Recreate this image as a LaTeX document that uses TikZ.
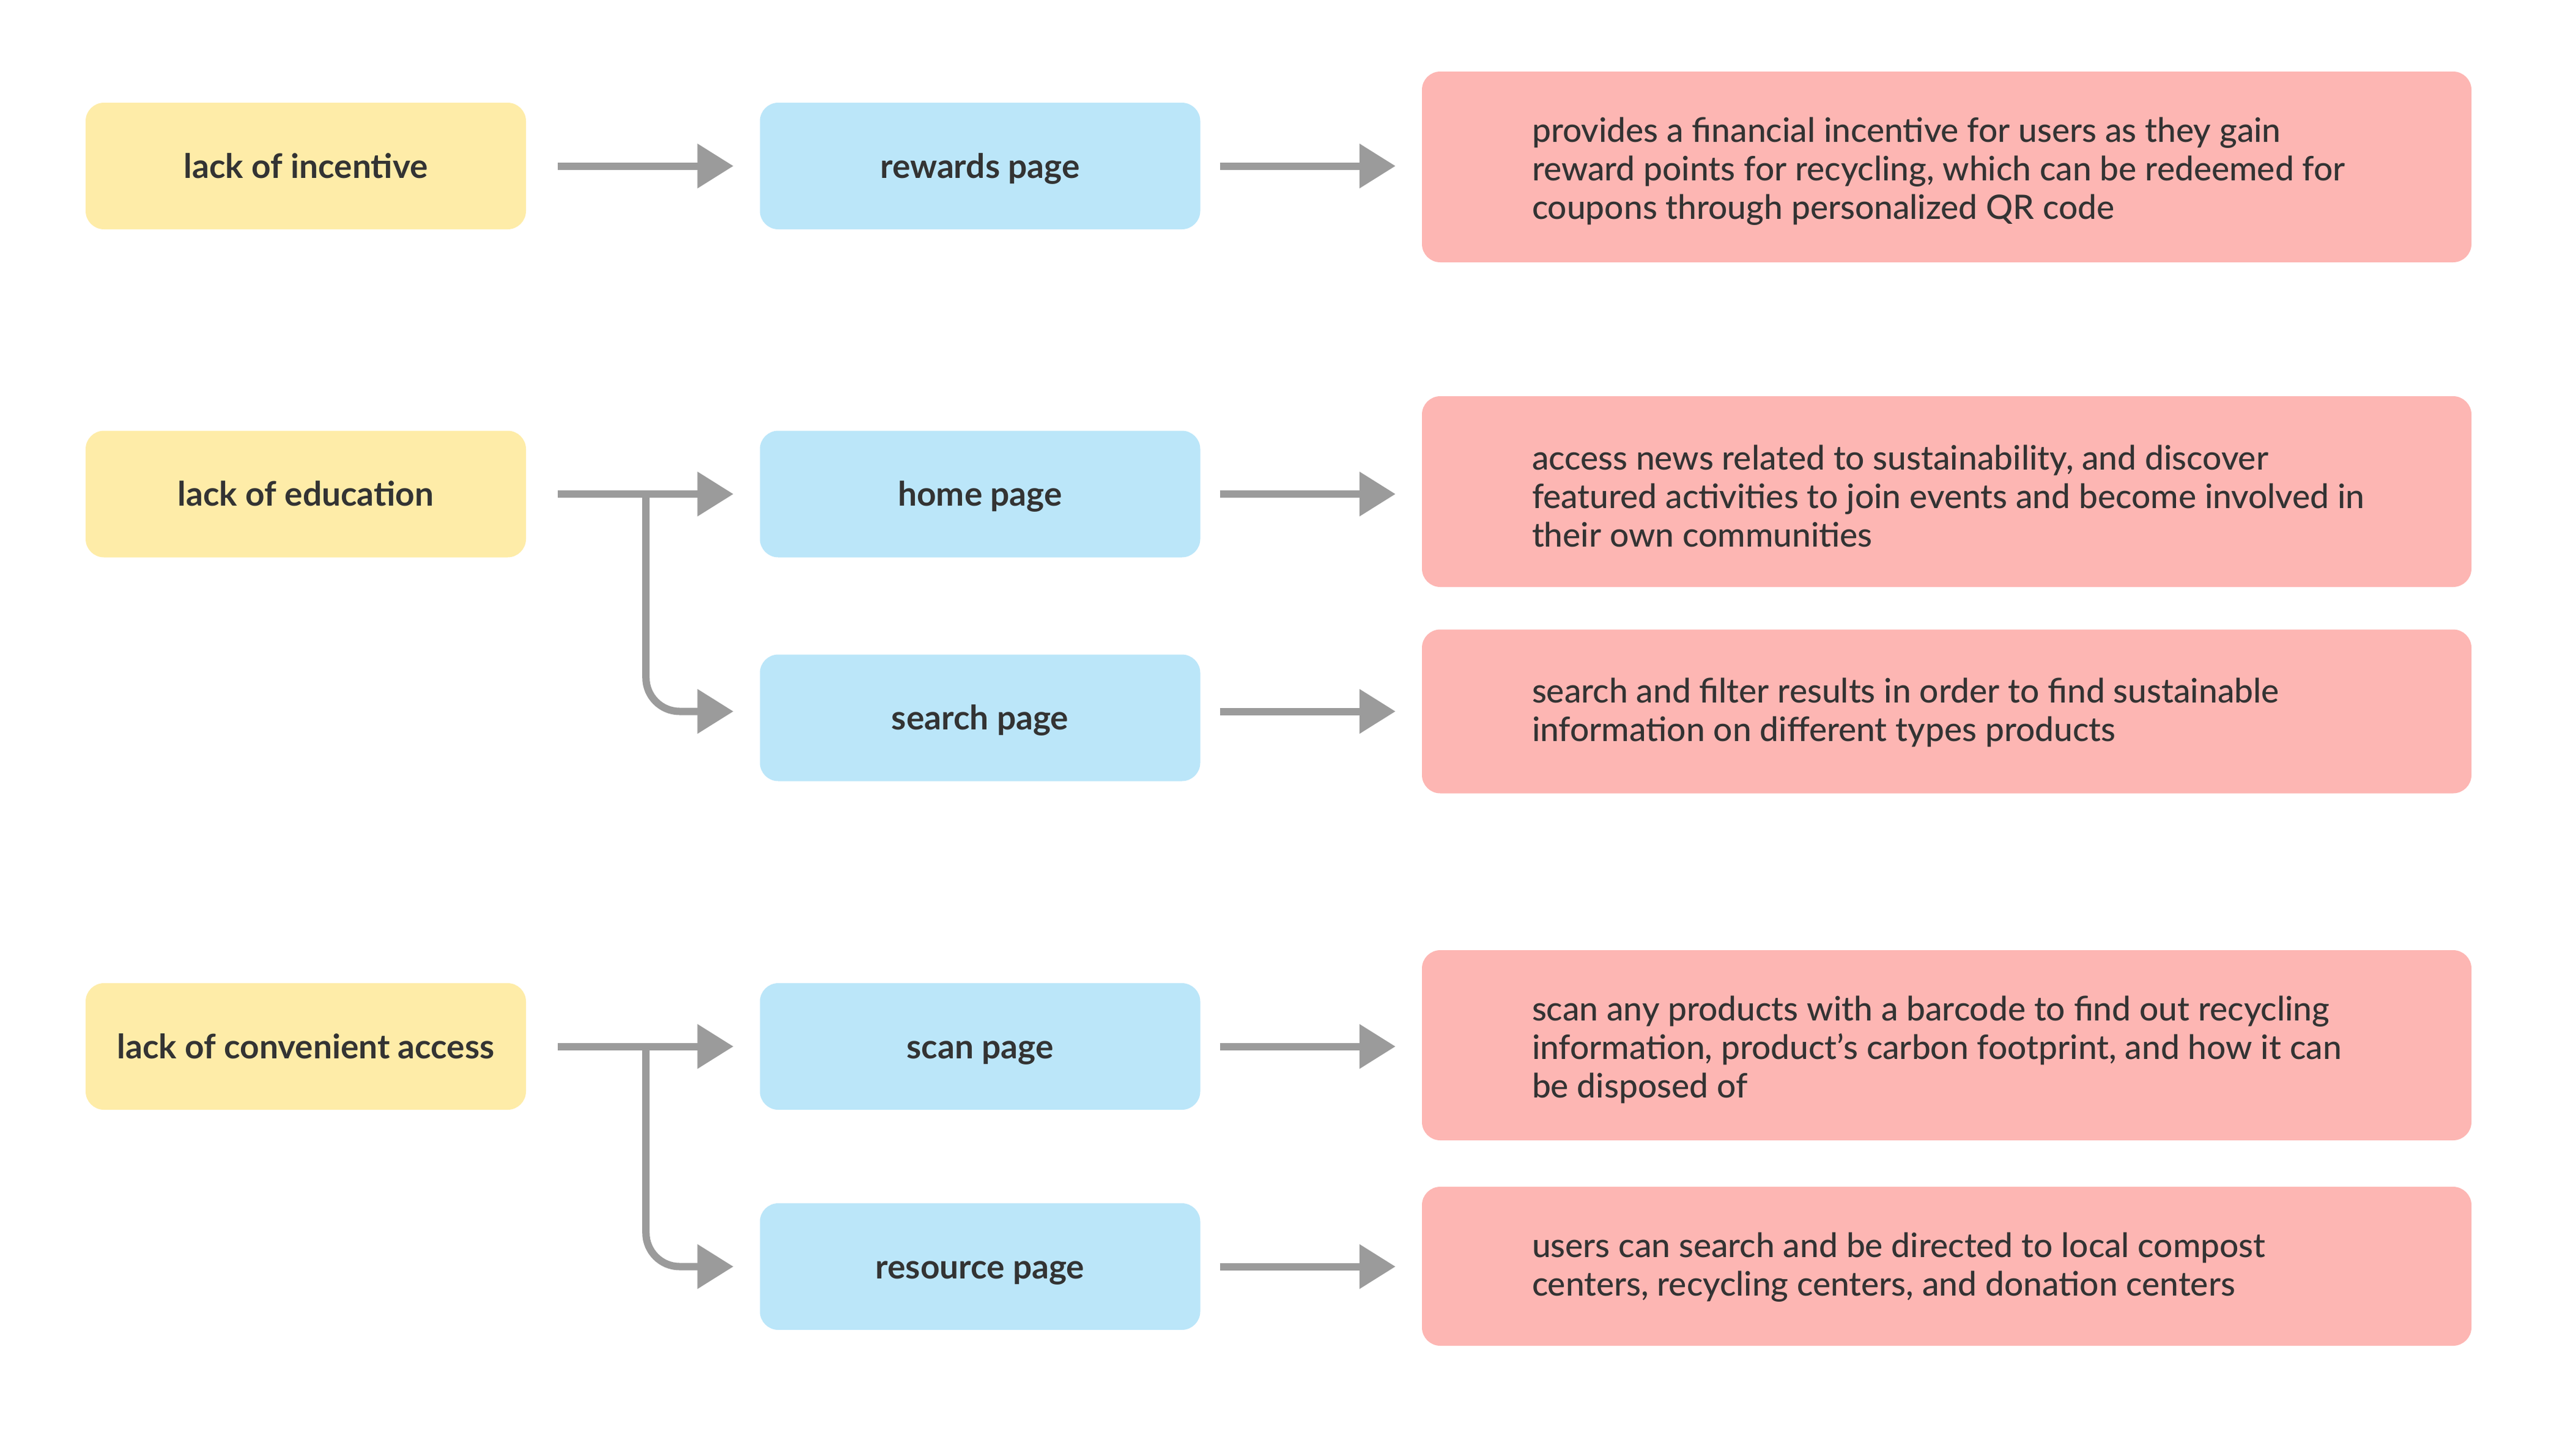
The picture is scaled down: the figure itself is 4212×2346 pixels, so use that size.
\documentclass[tikz,border=0pt]{standalone}
\usepackage{fontspec}
\setmainfont{Lato}
\newfontfamily\descfont{Lato Medium}
\usetikzlibrary{arrows.meta}
\definecolor{ybox}{RGB}{254,236,168}
\definecolor{bbox}{RGB}{187,230,249}
\definecolor{pbox}{RGB}{253,182,179}
\definecolor{arrgray}{RGB}{155,155,155}
\definecolor{txt}{RGB}{51,51,51}
\tikzset{
  base/.style={rounded corners=30pt, inner sep=0pt, text=txt},
  lbl/.style={base, minimum width=720pt, minimum height=207pt, text height=45pt, text depth=6pt, font=\fontsize{55}{63}\selectfont\bfseries},
  ylw/.style={lbl, fill=ybox},
  blu/.style={lbl, fill=bbox},
  pnk/.style={base, fill=pbox, minimum width=1716pt},
  desc/.style={anchor=west, inner sep=0pt, align=left, text=txt, font=\fontsize{55}{63}\descfont},
  arr/.style={draw=arrgray, line width=12pt, -{Triangle[length=59pt,width=70pt]}, shorten >=43pt},
}
\begin{document}
\begin{tikzpicture}[x=1pt,y=-1pt]
\useasboundingbox[fill=white] (0,0) rectangle (4212,2346);

% yellow problems
\node[ylw] (y1) at (500,271.5) {lack of incentive};
\node[ylw] (y2) at (500,808) {lack of education};
\node[ylw] (y3) at (500,1711.5) {lack of convenient access};

% blue pages
\node[blu] (b1) at (1602.5,271.5) {rewards page};
\node[blu] (b2) at (1602.5,808) {home page};
\node[blu] (b3) at (1602.5,1174) {search page};
\node[blu] (b4) at (1602.5,1711.5) {scan page};
\node[blu] (b5) at (1602.5,2071.5) {resource page};

% pink descriptions
\node[pnk, minimum height=312pt] (p1) at (3183,273) {};
\node[pnk, minimum height=312pt] (p2) at (3183,804) {};
\node[pnk, minimum height=268pt] (p3) at (3183,1163.5) {};
\node[pnk, minimum height=311pt] (p4) at (3183,1709.5) {};
\node[pnk, minimum height=260pt] (p5) at (3183,2071) {};

\node[desc, yshift=-7pt] (t1) at ([xshift=180pt]p1.west) {provides a financial incentive for users as they gain\\reward points for recycling, which can be redeemed for\\coupons through personalized QR code};
\node[desc, yshift=-7pt] (t2) at ([xshift=180pt]p2.west) {access news related to sustainability, and discover\\featured activities to join events and become involved in\\their own communities};
\node[desc, yshift=-2pt] (t3) at ([xshift=180pt]p3.west) {search and filter results in order to find sustainable\\information on different types products};
\node[desc, yshift=-7pt] (t4) at ([xshift=180pt]p4.west) {scan any products with a barcode to find out recycling\\information, product’s carbon footprint, and how it can\\be disposed of};
\node[desc, yshift=-2pt] (t5) at ([xshift=180pt]p5.west) {users can search and be directed to local compost\\centers, recycling centers, and donation centers};

% arrows: problems -> pages
\draw[arr, shorten <=52pt] (y1.east) -- (b1.west);
\draw[arr, shorten <=52pt] (y2.east) -- (b2.west);
\draw[arr, shorten <=52pt] (y3.east) -- (b4.west);
\draw[arr, rounded corners=55pt] ([xshift=196pt]y2.east) |- (b3.west |- p3.west);
\draw[arr, rounded corners=55pt] ([xshift=196pt]y3.east) |- (b5.west);

% arrows: pages -> descriptions
\draw[arr, shorten <=32pt] (b1.east) -- (b1.east -| p1.west);
\draw[arr, shorten <=32pt] (b2.east) -- (b2.east -| p2.west);
\draw[arr, shorten <=32pt] (b3.east |- p3.west) -- (p3.west);
\draw[arr, shorten <=32pt] (b4.east) -- (b4.east -| p4.west);
\draw[arr, shorten <=32pt] (b5.east) -- (b5.east -| p5.west);
\end{tikzpicture}
\end{document}
